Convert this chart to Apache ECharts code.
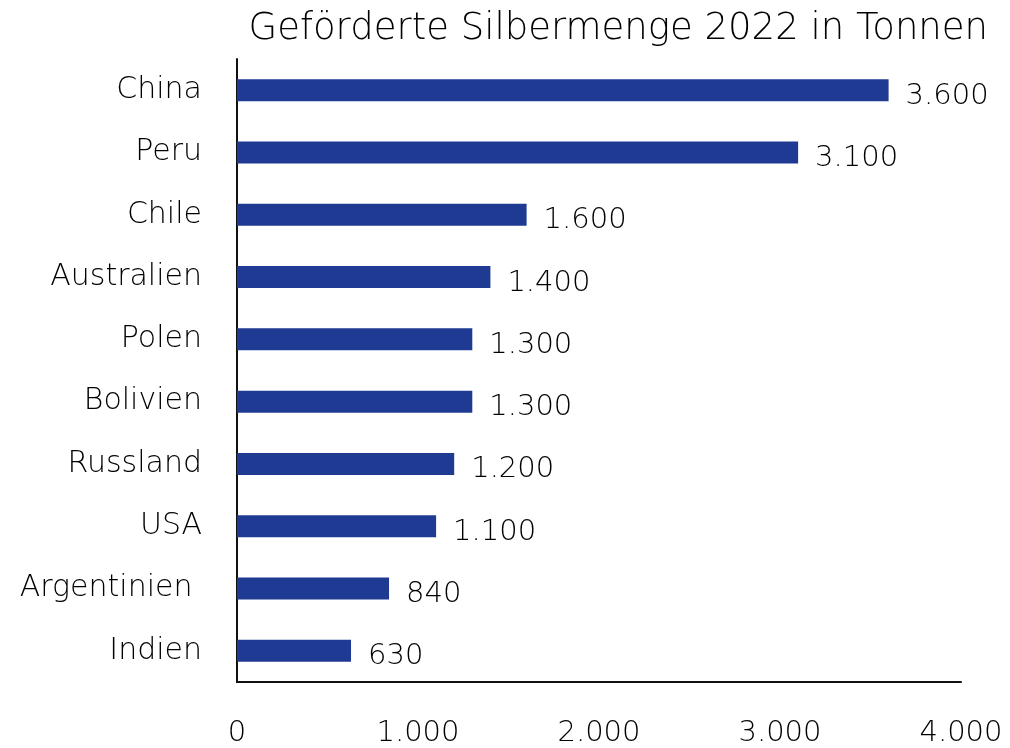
<!DOCTYPE html>
<html><head><meta charset="utf-8">
<script src="https://cdn.jsdelivr.net/npm/echarts@6/dist/echarts.min.js"></script>
<style>html,body{margin:0;padding:0;background:#fff}#c{width:1010px;height:748px}</style>
</head><body><div id="c"></div>
<script>
const categories = ["China","Peru","Chile","Australien","Polen","Bolivien","Russland","USA","Argentinien ","Indien"];
const values = [3600,3100,1600,1400,1300,1300,1200,1100,840,630];
const titleText = "Geförderte Silbermenge 2022 in Tonnen";
const xTicks = {min:0, max:4000, interval:1000};

const fmt = v => { const s = String(Math.round(v)); return s.replace(/\B(?=(\d{3})+(?!\d))/g, "."); };
const FONT = "DejaVu Sans";
const W = 200;
const chart = echarts.init(document.getElementById('c'));
chart.setOption({
  animation:false,
  title:{text:titleText, right:17, top:6, textStyle:{fontFamily:FONT, fontSize:37, fontWeight:W, color:'#000'}},
  grid:{left:237, right:49, top:59, bottom:65, containLabel:false},
  xAxis:{type:'value', min:xTicks.min, max:xTicks.max, interval:xTicks.interval,
    axisLine:{show:true, lineStyle:{color:'#111', width:2}}, axisTick:{show:false}, splitLine:{show:false},
    axisLabel:{margin:37, fontFamily:FONT, fontSize:29, fontWeight:W, color:'#000', formatter:fmt}},
  yAxis:{type:'category', data:categories, inverse:true,
    axisLine:{show:true, lineStyle:{color:'#111', width:2}}, axisTick:{show:false},
    axisLabel:{margin:35, padding:[4,0,0,0], fontFamily:FONT, fontSize:30, fontWeight:W, color:'#000'}},
  series:[{type:'bar', data:values, barWidth:22, itemStyle:{color:'#1f3a93'},
    label:{show:true, position:'right', distance:17, offset:[0,6], fontFamily:FONT, fontSize:29, fontWeight:W, color:'#000', formatter:p=>fmt(p.value)}}]
});
</script></body></html>
